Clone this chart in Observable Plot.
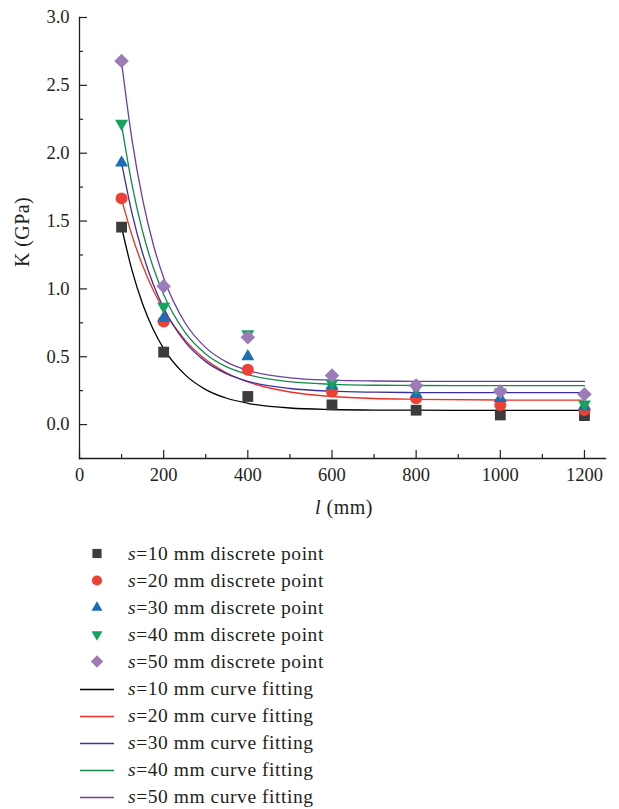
<!DOCTYPE html>
<html>
<head>
<meta charset="utf-8">
<script src="https://cdn.jsdelivr.net/npm/d3@7"></script>
<script src="https://cdn.jsdelivr.net/npm/@observablehq/plot@0.6"></script>
<style>
  html, body { margin: 0; padding: 0; background: #fff; }
  #wrap { width: 619px; font-family: 'Liberation Serif', 'DejaVu Serif', serif; color: #231f20; }
  #legend { padding-top: 15px; }
  .row { display: flex; align-items: center; height: 27.1px; }
  .sw { width: 128px; height: 27px; flex: none; }
  .lab { font-size: 19.5px; letter-spacing: 0.55px; white-space: nowrap; }
  .lab i { font-style: italic; }
</style>
</head>
<body>
<div id="wrap"><div id="chart"></div><div id="legend"></div></div>
<script>
// ---- data ----
const lengths = [100, 200, 400, 600, 800, 1000, 1200];           // l (mm)
const k10 = [1.455, 0.534, 0.207, 0.145, 0.106, 0.071, 0.066];
const k20 = [1.667, 0.76, 0.404, 0.244, 0.194, 0.145, 0.108];
const k30 = [1.93, 0.785, 0.502, 0.288, 0.224, 0.194, 0.133];
const k40 = [2.218, 0.87, 0.667, 0.305, 0.268, 0.239, 0.15];
const k50 = [2.68, 1.019, 0.643, 0.362, 0.288, 0.244, 0.224];

// fitted curves
const curveX = [100, 125, 150, 175, 200, 250, 300, 350, 400, 500, 600, 700, 800, 1000, 1200];
const fit10 = [1.455, 1.134, 0.889, 0.703, 0.560, 0.370, 0.258, 0.194, 0.157, 0.122, 0.111, 0.107, 0.106, 0.105, 0.105];
const fit20 = [1.66, 1.392, 1.172, 0.992, 0.845, 0.626, 0.479, 0.380, 0.314, 0.240, 0.207, 0.192, 0.186, 0.181, 0.180];
const fit30 = [1.93, 1.555, 1.263, 1.036, 0.859, 0.613, 0.464, 0.374, 0.319, 0.266, 0.246, 0.239, 0.236, 0.235, 0.235];
const fit40 = [2.21, 1.765, 1.423, 1.161, 0.958, 0.684, 0.521, 0.425, 0.369, 0.316, 0.297, 0.290, 0.288, 0.287, 0.287];
const fit50 = [2.67, 2.094, 1.659, 1.331, 1.082, 0.754, 0.567, 0.460, 0.399, 0.344, 0.327, 0.321, 0.319, 0.318, 0.318];

const seriesNames = ["10", "20", "30", "40", "50"];
const xTicks = [0, 200, 400, 600, 800, 1000, 1200];
const xMinor = [100, 300, 500, 700, 900, 1100];
const yTicks = [0, 0.5, 1.0, 1.5, 2.0, 2.5, 3.0];
const yMinor = [-0.25, 0.25, 0.75, 1.25, 1.75, 2.25, 2.75];

// ---- styles ----
const pointStyle = [
  {symbol: "square", fill: "#3c3c3e", r: 6.1, rotate: 0},
  {symbol: "circle", fill: "#ee4136", r: 6, rotate: 0},
  {symbol: "triangle2", fill: "#1c6db6", r: 6.2, rotate: 0},
  {symbol: "triangle2", fill: "#12a35c", r: 6.2, rotate: 180},
  {symbol: "square", fill: "#9d7bb9", r: 5.8, rotate: 45}
];
const lineColors = ["#000000", "#ee3124", "#3b2f9e", "#138a4a", "#6b3fa5"];

const pointSets = [k10, k20, k30, k40, k50];
const fitSets = [fit10, fit20, fit30, fit40, fit50];

const points = pointSets.map(ks => lengths.map((l, i) => ({l, k: ks[i]})));
const fits = fitSets.map(ks => curveX.map((l, i) => ({l, k: ks[i]})));

const font = "'Liberation Serif', 'DejaVu Serif', serif";

const plot = Plot.plot({
  width: 619,
  height: 525,
  marginLeft: 79,
  marginRight: 14,
  marginTop: 17,
  marginBottom: 67,
  style: {fontFamily: font, fontSize: "18.5px", color: "#231f20", background: "white", overflow: "visible"},
  x: {domain: [0, 1250], label: null},
  y: {domain: [-0.25, 3.0], label: null},
  marks: [
    ...fits.map((d, i) => Plot.line(d, {x: "l", y: "k", stroke: lineColors[i], strokeWidth: 1.3, curve: "monotone-x"})),
    ...points.map((d, i) => Plot.dot(d, {x: "l", y: "k", symbol: pointStyle[i].symbol, fill: pointStyle[i].fill, r: pointStyle[i].r, rotate: pointStyle[i].rotate, stroke: "none"})),
    Plot.frame({anchor: "left", stroke: "#231f20", strokeWidth: 1.3}),
    Plot.frame({anchor: "bottom", stroke: "#231f20", strokeWidth: 1.3}),
    Plot.axisX({ticks: xTicks, tickSize: -8, tickPadding: 17, tickFormat: d => String(d), fontSize: 18.5, stroke: "#231f20", strokeWidth: 1.2}),
    Plot.axisX({ticks: xMinor, tickSize: -4, text: null, stroke: "#231f20", strokeWidth: 1.2}),
    Plot.axisY({ticks: yTicks, tickSize: -8, tickPadding: 18, tickFormat: d => d.toFixed(1), fontSize: 18.5, stroke: "#231f20", strokeWidth: 1.2}),
    Plot.axisY({ticks: yMinor, tickSize: -4, text: null, stroke: "#231f20", strokeWidth: 1.2})
  ]
});

// axis titles
const svg = d3.select(plot);
const xl = svg.append("text")
  .attr("x", 344).attr("y", 514)
  .attr("text-anchor", "middle")
  .attr("font-family", font).attr("font-size", 20).attr("letter-spacing", "0.5px").attr("fill", "#231f20");
xl.append("tspan").attr("font-style", "italic").text("l");
xl.append("tspan").text(" (mm)");
svg.append("text")
  .attr("transform", "translate(29,232) rotate(-90)")
  .attr("text-anchor", "middle")
  .attr("font-family", font).attr("font-size", 20).attr("letter-spacing", "0.4px").attr("fill", "#231f20")
  .text("K (GPa)");

document.getElementById("chart").appendChild(plot);

// ---- legend ----
const legend = d3.select("#legend");
function symbolPath(i) {
  const st = pointStyle[i];
  const size = Math.PI * st.r * st.r;
  const sym = st.symbol === "circle" ? d3.symbolCircle : st.symbol === "square" ? d3.symbolSquare : d3.symbolTriangle2;
  return {d: d3.symbol(sym, size)(), rotate: st.rotate, fill: st.fill};
}
seriesNames.forEach((s, i) => {
  const row = legend.append("div").attr("class", "row");
  const sw = row.append("svg").attr("class", "sw").attr("width", 128).attr("height", 27);
  const p = symbolPath(i);
  sw.append("path").attr("d", p.d).attr("fill", p.fill)
    .attr("transform", `translate(97,13.5) rotate(${p.rotate}) scale(0.85)`);
  const lab = row.append("span").attr("class", "lab");
  lab.append("i").text("s");
  lab.append("span").text(`=${s} mm discrete point`);
});
seriesNames.forEach((s, i) => {
  const row = legend.append("div").attr("class", "row");
  const sw = row.append("svg").attr("class", "sw").attr("width", 128).attr("height", 27);
  sw.append("line").attr("x1", 80).attr("x2", 114).attr("y1", 13.5).attr("y2", 13.5)
    .attr("stroke", lineColors[i]).attr("stroke-width", 1.3);
  const lab = row.append("span").attr("class", "lab");
  lab.append("i").text("s");
  lab.append("span").text(`=${s} mm curve fitting`);
});
</script>
</body>
</html>
